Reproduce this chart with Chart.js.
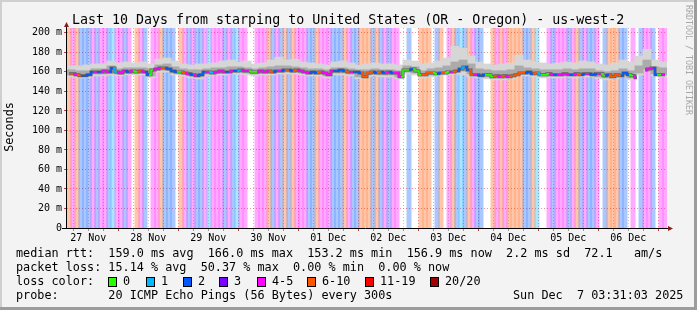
<!DOCTYPE html>
<html>
<head>
<meta charset="utf-8">
<script src="https://cdn.jsdelivr.net/npm/chart.js@4.4.0/dist/chart.umd.min.js"></script>
<style>
  html, body { margin: 0; padding: 0; background: #f3f3f3; }
  canvas { display: block; }
</style>
</head>
<body>
<canvas id="smoke" width="697" height="310"></canvas>
<script>
// ===== time axis: last 10 days, ending Sun Dec 7 03:31:03 2025 (x = hours since start) =====
const startHour = 3 + 31 / 60 + 3 / 3600;   // 27 Nov 03:31:03
const spanHours = 240;
const firstMidnight = 24 - startHour;       // 28 Nov 00:00
const firstNoon = firstMidnight - 12;       // 27 Nov 12:00
const dayLabels = ['27 Nov', '28 Nov', '29 Nov', '30 Nov', '01 Dec', '02 Dec', '03 Dec', '04 Dec', '05 Dec', '06 Dec'];
const yTicks = [0, 10, 20, 30, 40, 50, 60, 70, 80, 90, 100, 110, 120, 130, 140, 150, 160, 170, 180, 190, 200];
const yMax = 205;

// ===== packet loss per 1.6h bin (pings lost of 20) =====
const lossStep = 1.6;
const lossBins = [
  7, 4, 7, 2, 2, 2, 4, 2, 4, 4, 2, 1, 4, 4, 2, 4, 0, 7, 4, 2, 0, 4, 4, 7, 2, 2, 2, 0, 7, 4, 2, 4, 2, 2, 4, 1, 4,
  4, 4, 2, 4, 2, 1, 4, 4, 0, 0, 4, 4, 4, 7, 2, 4, 2, 7, 2, 7, 4, 4, 4, 2, 2, 7, 4, 4, 4, 2, 2, 2, 7, 4, 2, 2, 7, 7,
  7, 2, 7, 2, 4, 2, 4, 4, 0, 0, 2, 0, 0, 7, 7, 7, 0, 2, 7, 0, 4, 7, 2, 1, 2, 7, 4, 2, 2, 0, 0, 7, 4, 7, 4, 7, 7,
  7, 7, 2, 2, 7, 1, 0, 0, 4, 2, 4, 4, 4, 2, 4, 7, 2, 4, 2, 2, 4, 0, 2, 7, 7, 7, 2, 2, 0, 4, 0, 2, 4, 4, 2, 0, 4, 4
];

// ===== median rtt per 1.6h bin (ms) =====
const medianRtt = [
  158, 158, 157, 156, 156, 157, 160, 160, 160, 161, 160, 164, 160, 159, 161, 160, 161, 160, 161, 160,
  157, 162, 163, 164, 164, 163, 161, 160, 160, 159, 158, 157, 156, 157, 160, 160, 159, 160, 161, 160,
  160, 161, 161, 162, 161, 161, 160, 160, 161, 160, 161, 160, 161, 161, 162, 162, 161, 162, 161, 160,
  159, 160, 159, 160, 159, 157, 161, 161, 162, 161, 160, 160, 160, 159, 155, 159, 160, 159, 160, 159,
  160, 159, 159, 155, 162, 162, 163, 161, 157, 157, 159, 159, 158, 159, 159, 160, 160, 161, 163, 165,
  162, 157, 157, 156, 157, 157, 155, 156, 155, 156, 155, 156, 157, 159, 159, 160, 158, 159, 157, 157,
  158, 157, 157, 157, 158, 157, 157, 158, 157, 158, 158, 157, 158, 158, 156, 157, 155, 157, 156, 159,
  157, 156, 154, null, 162, 163, 164, 157, 157, 157
];

// ===== smoke (ping spread) per 3.2h bin (ms) =====
const smokeStep = 3.2;
const smokeMax = [
  166, 166, 167, 168, 168, 171, 169, 170, 169, 170, 168, 173, 174, 171, 168, 167, 168, 168, 169, 171,
  172, 170, 171, 168, 169, 172, 175, 172, 173, 170, 169, 168, 167, 170, 171, 169, 167, 168, 169, 168,
  168, 167, 172, 171, 168, 169, 171, 174, 186, 184, 176, 170, 168, 167, 168, 169, 177, 172, 170, 169,
  168, 169, 170, 169, 171, 170, 168, 167, 169, 172, 170, 176, 183, 172, 170
];
const smokeHi = [
  162, 161, 161, 163, 163, 166, 163, 164, 164, 164, 163, 167, 168, 165, 163, 162, 162, 163, 164, 164,
  165, 165, 164, 163, 164, 165, 166, 166, 165, 164, 163, 163, 162, 164, 164, 163, 162, 162, 163, 162,
  162, 161, 166, 165, 161, 163, 164, 166, 170, 172, 168, 163, 162, 161, 161, 162, 166, 164, 163, 162,
  162, 162, 163, 162, 163, 163, 161, 160, 161, 163, 161, 166, 172, 165, 164
];
const smokeLo = [
  157, 156, 156, 158, 158, 159, 158, 159, 159, 159, 156, 162, 162, 159, 158, 156, 155, 158, 159, 159,
  160, 160, 159, 158, 159, 159, 160, 160, 160, 159, 158, 158, 156, 159, 159, 158, 155, 157, 158, 157,
  157, 155, 160, 159, 156, 157, 158, 159, 160, 161, 158, 156, 155, 154, 154, 155, 158, 158, 157, 156,
  156, 156, 157, 156, 157, 157, 155, 154, 155, 157, 154, 159, 163, 158, 157
];
const smokeMin = [
  155, 154, 154, 156, 156, 157, 156, 157, 157, 157, 154, 160, 160, 157, 156, 154, 153, 156, 157, 157,
  158, 158, 157, 156, 157, 157, 158, 158, 158, 157, 156, 156, 154, 157, 157, 156, 153, 155, 156, 155,
  155, 153, 158, 157, 154, 155, 156, 157, 158, 157, 155, 154, 153, 152, 152, 153, 156, 156, 155, 154,
  154, 154, 155, 154, 155, 155, 153, 152, 153, 155, 152, 157, 161, 156, 155
];

// ===== loss colours =====
const lossNames = ['0', '1', '2', '3', '4-5', '6-10', '11-19', '20/20'];
const lossColors = ['#26ff00', '#00b8ff', '#0059ff', '#7e00ff', '#ff00ff', '#ff5500', '#ff0000', '#a10000'];

function lossClass(n) {
    if (n <= 3) return n;
    if (n <= 5) return 4;
    if (n <= 10) return 5;
    if (n <= 19) return 6;
    return 7;
}
function bandColor(n) {
    return n ? lossColors[lossClass(n)] + '55' : 'rgba(0,0,0,0)';
}

const MONO = '"DejaVu Sans Mono", monospace';
const majorGrid = 'rgba(225, 70, 70, 0.6)';
const minorGrid = 'rgba(120, 120, 120, 0.45)';

function isMidnight(v) {
    const r = (((v - firstMidnight) % 24) + 24) % 24;
    return r < 0.01 || r > 23.99;
}

// ===== frame, axes and texts =====
const rrdDecor = {
    id: 'rrdDecor',
    beforeDraw(chart) {
        const { ctx, chartArea: a } = chart;
        ctx.save();
        ctx.fillStyle = '#f3f3f3';
        ctx.fillRect(0, 0, 697, 310);
        ctx.fillStyle = '#cfcfcf';
        ctx.fillRect(0, 0, 697, 2);
        ctx.fillRect(0, 0, 2, 310);
        ctx.fillStyle = '#9c9c9c';
        ctx.fillRect(0, 307, 697, 3);
        ctx.fillRect(694, 0, 3, 310);
        ctx.fillStyle = '#ffffff';
        ctx.fillRect(a.left, a.top, a.right - a.left, a.bottom - a.top);
        ctx.restore();
    },
    afterDraw(chart) {
        const { ctx, chartArea: a } = chart;
        ctx.save();
        // axes
        ctx.strokeStyle = '#000';
        ctx.lineWidth = 1;
        ctx.beginPath();
        ctx.moveTo(a.left - 0.5, a.bottom + 0.5);
        ctx.lineTo(a.left - 0.5, a.top - 2);
        ctx.moveTo(a.left - 5, a.bottom + 0.5);
        ctx.lineTo(a.right + 2, a.bottom + 0.5);
        ctx.stroke();
        ctx.fillStyle = '#8b1a1a';
        ctx.beginPath();
        ctx.moveTo(a.left - 3, a.top - 1);
        ctx.lineTo(a.left + 2, a.top - 1);
        ctx.lineTo(a.left - 0.5, a.top - 6);
        ctx.fill();
        ctx.beginPath();
        ctx.moveTo(a.right + 1, a.bottom - 2);
        ctx.lineTo(a.right + 1, a.bottom + 3);
        ctx.lineTo(a.right + 6, a.bottom + 0.5);
        ctx.fill();

        ctx.fillStyle = '#000';
        ctx.textBaseline = 'alphabetic';
        ctx.textAlign = 'left';
        ctx.font = '13.3px ' + MONO;
        ctx.fillText('Last 10 Days from starping to United States (OR - Oregon) - us-west-2', 72, 24);

        ctx.save();
        ctx.translate(10, 127);
        ctx.rotate(-Math.PI / 2);
        ctx.textAlign = 'center';
        ctx.textBaseline = 'middle';
        ctx.font = '11.8px ' + MONO;
        ctx.fillText('Seconds', 0, 0);
        ctx.restore();

        ctx.save();
        ctx.translate(688, 5);
        ctx.rotate(Math.PI / 2);
        ctx.textBaseline = 'middle';
        ctx.fillStyle = '#a8a8a8';
        ctx.font = '8.3px ' + MONO;
        ctx.fillText('RRDTOOL / TOBI OETIKER', 0, 0);
        ctx.restore();

        // legend block
        ctx.font = '11.8px ' + MONO;
        ctx.textBaseline = 'middle';
        ctx.fillText('median rtt:  159.0 ms avg  166.0 ms max  153.2 ms min  156.9 ms now  2.2 ms sd  72.1   am/s', 16, 254);
        ctx.fillText('packet loss: 15.14 % avg  50.37 % max  0.00 % min  0.00 % now', 16, 268);
        ctx.fillText('loss color:', 16, 282);
        ctx.fillText('probe:       20 ICMP Echo Pings (56 Bytes) every 300s', 16, 296);
        ctx.fillText('Sun Dec  7 03:31:03 2025', 513, 296);

        const boxX = [108, 146, 183, 219, 257, 307, 365, 430];
        lossNames.forEach((name, k) => {
            ctx.fillStyle = lossColors[k];
            ctx.fillRect(boxX[k], 277, 9, 10);
            ctx.strokeStyle = '#000';
            ctx.strokeRect(boxX[k] + 0.5, 277.5, 8, 9);
            ctx.fillStyle = '#000';
            ctx.fillText(name, boxX[k] + 15, 282);
        });
        ctx.restore();
    }
};

// ===== datasets =====
const bandData = lossBins.map((n, i) => ({ x: (i + 0.5) * lossStep, y: [0, yMax] }));
const outerSmoke = smokeMin.map((v, j) => ({ x: (j + 0.5) * smokeStep, y: [v, smokeMax[j]] }));
const innerSmoke = smokeLo.map((v, j) => ({ x: (j + 0.5) * smokeStep, y: [v, smokeHi[j]] }));
const medianData = medianRtt.map((v, i) => ({ x: (i + 0.5) * lossStep, y: v }));

const barStyle = { barPercentage: 1, categoryPercentage: 1, grouped: false, borderWidth: 0, inflateAmount: 0.5 };

new Chart(document.getElementById('smoke'), {
    data: {
        datasets: [
            {
                type: 'line', label: 'median', data: medianData, xAxisID: 'x', order: 0,
                borderWidth: 1.6, pointRadius: 0, stepped: 'middle', spanGaps: false,
                segment: { borderColor: c => lossColors[lossClass(lossBins[c.p0DataIndex])] }
            },
            {
                type: 'line', label: 'median shade', data: medianData, xAxisID: 'x', order: 1,
                borderColor: '#5e5e5e', borderWidth: 3, pointRadius: 0, stepped: 'middle', spanGaps: false
            },
            Object.assign({ type: 'bar', label: 'smoke inner', data: innerSmoke, xAxisID: 'x2', order: 2, backgroundColor: '#ababab' }, barStyle),
            Object.assign({ type: 'bar', label: 'smoke outer', data: outerSmoke, xAxisID: 'x2', order: 3, backgroundColor: '#d6d6d6' }, barStyle),
            Object.assign({ type: 'bar', label: 'loss', data: bandData, xAxisID: 'x', order: 4, backgroundColor: lossBins.map(bandColor) }, barStyle)
        ]
    },
    options: {
        responsive: false,
        animation: false,
        devicePixelRatio: 1,
        layout: { padding: { top: 28, right: 30, left: 0, bottom: 0 } },
        plugins: { legend: { display: false }, tooltip: { enabled: false }, title: { display: false } },
        scales: {
            x: {
                type: 'linear', min: 0, max: spanHours, offset: false,
                afterBuildTicks: scale => {
                    const t = [];
                    for (let h = firstMidnight - 18; h <= spanHours; h += 6) t.push({ value: h });
                    scale.ticks = t;
                },
                afterFit: scale => { scale.height = 82; },
                ticks: {
                    autoSkip: false, maxRotation: 0, padding: 1, color: '#000',
                    font: { family: MONO, size: 10 },
                    callback: value => {
                        const rel = value - firstNoon;
                        const k = Math.round(rel / 24);
                        if (Math.abs(rel - k * 24) < 0.01 && k >= 0 && k < dayLabels.length) return dayLabels[k];
                        return '';
                    }
                },
                grid: {
                    offset: false, tickLength: 3,
                    color: c => isMidnight(c.tick.value) ? majorGrid : minorGrid,
                    tickColor: c => isMidnight(c.tick.value) ? '#d04040' : '#999'
                },
                border: { display: false, dash: [1, 2] }
            },
            x2: { type: 'linear', min: 0, max: spanHours, offset: false, display: false },
            y: {
                min: 0, max: yMax,
                afterBuildTicks: scale => { scale.ticks = yTicks.map(v => ({ value: v })); },
                afterFit: scale => { scale.width = 67; },
                ticks: {
                    padding: 2, color: '#000', font: { family: MONO, size: 10 },
                    callback: v => v === 0 ? '0' : (v % 20 === 0 ? v + ' m' : '')
                },
                grid: {
                    tickLength: 3,
                    color: c => c.tick.value % 20 === 0 ? majorGrid : minorGrid,
                    tickColor: c => c.tick.value % 20 === 0 ? '#d04040' : '#999'
                },
                border: { display: false, dash: [1, 2] }
            }
        }
    },
    plugins: [rrdDecor]
});
</script>
</body>
</html>
